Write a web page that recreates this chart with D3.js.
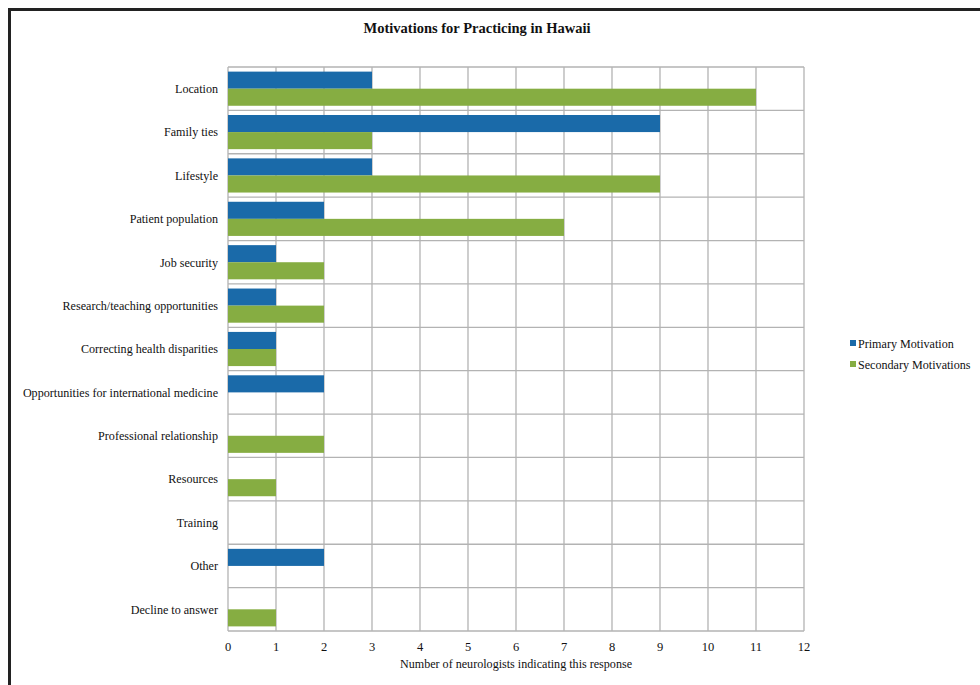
<!DOCTYPE html>
<html>
<head>
<meta charset="utf-8">
<script src="https://cdn.jsdelivr.net/npm/d3@7/dist/d3.min.js"></script>
<style>
  html, body { margin: 0; padding: 0; background: #fff; }
  svg { display: block; }
  text { font-family: "Liberation Serif", "Times New Roman", serif; fill: #111; }
</style>
</head>
<body>
<svg id="chart" width="980" height="685"></svg>
<script>
// Survey responses: reasons neurologists give for practicing in Hawaii
const categories = [
  "Location",
  "Family ties",
  "Lifestyle",
  "Patient population",
  "Job security",
  "Research/teaching opportunities",
  "Correcting health disparities",
  "Opportunities for international medicine",
  "Professional relationship",
  "Resources",
  "Training",
  "Other",
  "Decline to answer"
];
const primaryValues   = [3, 9, 3, 2, 1, 1, 1, 2, 0, 0, 0, 2, 0];
const secondaryValues = [11, 3, 9, 7, 2, 2, 1, 0, 2, 1, 0, 0, 1];
const seriesNames = ["Primary Motivation", "Secondary Motivations"];
const seriesColors = ["#1a6aa9", "#86ad42"];
const xTicks = [0, 1, 2, 3, 4, 5, 6, 7, 8, 9, 10, 11, 12];

const svg = d3.select("#chart");

// page frame
svg.append("path")
  .attr("d", "M9.5,685 V9.5 H980")
  .attr("fill", "none")
  .attr("stroke", "#222")
  .attr("stroke-width", 3);

const plot = { left: 228, right: 804, top: 67, bottom: 631 };

const x = d3.scaleLinear().domain([0, 12]).range([plot.left, plot.right]);
const y = d3.scaleBand().domain(categories).range([plot.top, plot.bottom]).paddingInner(0).paddingOuter(0);
const ySub = d3.scaleBand().domain([0, 1]).range([0, y.bandwidth()]).paddingInner(0).paddingOuter(0.27);

// grid
const grid = svg.append("g").attr("stroke", "#b3b3b3").attr("stroke-width", 1.3);
grid.selectAll("line.v").data(xTicks).join("line")
  .attr("class", "v")
  .attr("x1", d => x(d)).attr("x2", d => x(d))
  .attr("y1", plot.top).attr("y2", plot.bottom);
const hLines = categories.map(c => y(c)).concat([plot.bottom]);
grid.selectAll("line.h").data(hLines).join("line")
  .attr("class", "h")
  .attr("x1", plot.left).attr("x2", plot.right)
  .attr("y1", d => d).attr("y2", d => d);

// bars
const rows = categories.map((c, i) => ({ c, vals: [primaryValues[i], secondaryValues[i]] }));
const groups = svg.append("g").selectAll("g").data(rows).join("g")
  .attr("transform", d => `translate(0,${y(d.c)})`);
groups.selectAll("rect").data(d => d.vals.map((v, k) => ({ v, k })).filter(e => e.v > 0)).join("rect")
  .attr("x", x(0))
  .attr("y", e => ySub(e.k))
  .attr("width", e => x(e.v) - x(0))
  .attr("height", ySub.bandwidth())
  .attr("fill", e => seriesColors[e.k]);

// category labels
svg.append("g").selectAll("text").data(categories).join("text")
  .attr("x", 218)
  .attr("y", c => y(c) + y.bandwidth() / 2 + 1.5)
  .attr("text-anchor", "end")
  .attr("dominant-baseline", "middle")
  .attr("font-size", 12.1)
  .text(c => c);

// x tick labels
svg.append("g").selectAll("text").data(xTicks).join("text")
  .attr("x", d => x(d))
  .attr("y", 651)
  .attr("text-anchor", "middle")
  .attr("font-size", 12.5)
  .text(d => d);

// axis title
svg.append("text")
  .attr("x", (plot.left + plot.right) / 2)
  .attr("y", 668)
  .attr("text-anchor", "middle")
  .attr("font-size", 12.1)
  .text("Number of neurologists indicating this response");

// chart title
svg.append("text")
  .attr("x", 477)
  .attr("y", 33)
  .attr("text-anchor", "middle")
  .attr("font-size", 14.5)
  .attr("font-weight", "bold")
  .text("Motivations for Practicing in Hawaii");

// legend
const legend = svg.append("g").attr("transform", "translate(850,345)");
const items = legend.selectAll("g").data(seriesNames).join("g")
  .attr("transform", (d, i) => `translate(0,${i * 21})`);
items.append("rect")
  .attr("x", 0).attr("y", -5)
  .attr("width", 6).attr("height", 6)
  .attr("fill", (d, i) => seriesColors[i]);
items.append("text")
  .attr("x", 8).attr("y", 0.5)
  .attr("dominant-baseline", "middle")
  .attr("font-size", 12.1)
  .text(d => d);
</script>
</body>
</html>
